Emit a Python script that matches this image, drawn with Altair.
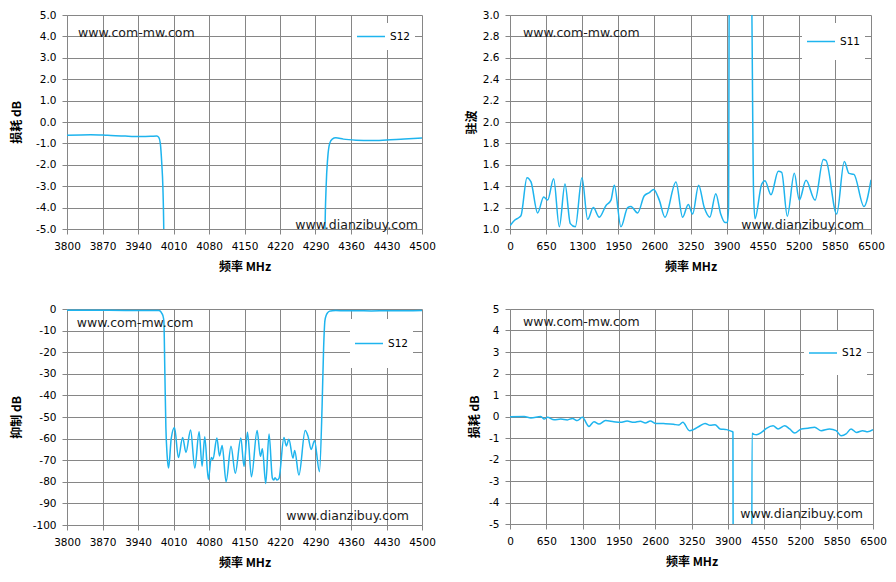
import altair as alt
import pandas as pd

# narrowband S12 (3800-4500 MHz), shared by the loss and rejection panels
nb_freq = [3800, 3847, 3880, 3915, 3944, 3965, 3977, 3981, 3984, 3987, 3989, 3991, 3993, 3995,
           3997.5, 4000.3, 4005.5, 4012, 4019.7, 4028, 4034.6, 4043.7, 4052, 4060.5, 4066.4, 4071.6,
           4078.7, 4084.5, 4087.8, 4095.5, 4100.7, 4106, 4113.7, 4123.4, 4131.8, 4142.8, 4149,
           4155.9, 4163.7, 4174.9, 4181.4, 4185.3, 4191.9, 4198.4, 4205, 4207.6, 4210.2, 4214, 4218,
           4227.8, 4232.4, 4237.6, 4245.5, 4249, 4257.3, 4269.7, 4275, 4281.5, 4288, 4297.8, 4303,
           4306, 4308.5, 4311, 4314, 4318, 4323, 4330, 4345, 4370, 4400, 4430, 4465, 4500]
nb_s12 = [-0.62, -0.59, -0.62, -0.66, -0.68, -0.67, -0.65, -0.72, -1.0, -2.0, -3.0, -5.5, -30, -55,
          -68, -73.6, -60, -54.9, -68.8, -59.5, -66.4, -56, -73.6, -56.8, -72.8, -59.2,
          -78.9, -68.8, -69.6, -59.7, -68, -63.2, -80, -63.5, -76, -59.7, -72.9,
          -57.1, -77.7, -56.3, -68.2, -64.7, -80.8, -57.9, -78.4, -79.2, -78.1, -79.2, -78.4,
          -59.5, -63.4, -60.3, -69, -65.5, -76.9, -56.3, -58.7, -65, -61, -75.3, -45,
          -18, -5.5, -3.0, -1.7, -1.0, -0.8, -0.74, -0.8, -0.85, -0.87, -0.84, -0.79, -0.75]

# wideband S12 (0-6500 MHz)
wb_freq = [0, 255, 374, 552, 612, 671, 790, 909, 1028, 1117, 1206, 1295, 1414, 1503, 1592, 1711,
           1859, 1978, 2097, 2216, 2335, 2424, 2513, 2602, 2751, 2929, 3018, 3095, 3214, 3285,
           3404, 3493, 3582, 3672, 3761, 3880, 3969, 3992, 3997, 4003, 4322, 4329, 4334, 4370,
           4414, 4503, 4592, 4711, 4800, 4919, 5008, 5097, 5216, 5335, 5454, 5573, 5721, 5840,
           5929, 6018, 6107, 6208, 6315, 6404, 6500]
wb_s12 = [-0.01, 0.0, -0.07, 0.0, -0.12, -0.04, -0.15, -0.12, -0.16, -0.09, -0.19, -0.04, -0.46,
          -0.24, -0.35, -0.19, -0.24, -0.27, -0.21, -0.27, -0.22, -0.3, -0.21, -0.32, -0.33, -0.36,
          -0.40, -0.27, -0.66, -0.61, -0.43, -0.32, -0.41, -0.38, -0.58, -0.61, -0.69, -0.72, -8,
          -30, -30, -8, -0.78, -0.83, -0.85, -0.74, -0.55, -0.43, -0.58, -0.43, -0.58, -0.77,
          -0.58, -0.55, -0.5, -0.66, -0.58, -0.66, -0.89, -0.81, -0.58, -0.74, -0.66, -0.71, -0.61]

# S11 VSWR (0-6500 MHz)
s11_freq = [0, 78, 168, 198, 306, 378, 498, 606, 678, 786, 888, 990, 1086, 1176, 1296, 1398, 1500,
            1608, 1729, 1818, 1878, 1998, 2118, 2178, 2298, 2418, 2508, 2586, 2688, 2790, 2988,
            3108, 3210, 3288, 3396, 3498, 3598, 3705, 3794, 3872, 3914, 3935, 3950, 4340, 4385,
            4411, 4532, 4591, 4699, 4831, 4892, 4993, 5119, 5209, 5330, 5492, 5642, 5690, 5882,
            6019, 6103, 6193, 6373, 6500]
s11_vswr = [1.03, 1.08, 1.11, 1.125, 1.48, 1.44, 1.15, 1.30, 1.27, 1.47, 1.02, 1.42, 1.05, 1.02,
            1.48, 1.09, 1.20, 1.11, 1.22, 1.27, 1.41, 1.02, 1.20, 1.21, 1.15, 1.31, 1.34, 1.37,
            1.27, 1.11, 1.44, 1.11, 1.23, 1.14, 1.41, 1.20, 1.11, 1.33, 1.14, 1.06, 1.06, 1.2,
            3.6, 3.6, 1.35, 1.096, 1.42, 1.45, 1.32, 1.54, 1.53, 1.12, 1.52, 1.27, 1.455, 1.27,
            1.65, 1.64, 1.14, 1.63, 1.52, 1.51, 1.21, 1.46]

LINE = "#1EB4EE"
GRID = "#868686"
LABEL_FONT = "DejaVu Sans"
TITLE_FONT = "Noto Sans CJK SC"


def ticks(lo, hi, step):
    n = round((hi - lo) / step)
    return [round(lo + i * step, 6) for i in range(n + 1)]


def hyphen(fmt):
    # Excel style labels use a plain hyphen, not the unicode minus
    return f"datum.value < 0 ? '-' + format(-datum.value, '{fmt}') : format(datum.value, '{fmt}')"


def note(text, x, y, align):
    return (
        alt.Chart(pd.DataFrame({"t": [text]}))
        .mark_text(align=align, baseline="middle", font=LABEL_FONT, fontSize=12.5, color="#1a1a1a")
        .encode(text="t:N", x=alt.value(x), y=alt.value(y))
    )


def panel(freq, vals, series, xdom, xstep, ydom, ystep, yfmt, ytitle, width, height,
          ytitle_x, leg, notes):
    df = pd.DataFrame({"f": freq, "v": vals, "series": series})
    lx, ly, pad, clip_h = leg
    line = (
        alt.Chart(df)
        .mark_line(interpolate="monotone", clip=True, strokeWidth=1.5)
        .encode(
            x=alt.X("f:Q", scale=alt.Scale(domain=xdom, nice=False, zero=False),
                    axis=alt.Axis(values=ticks(*xdom, xstep), format="d", title="频率 MHz",
                                  titleY=37, titleBaseline="middle")),
            y=alt.Y("v:Q", scale=alt.Scale(domain=ydom, nice=False, zero=False),
                    axis=alt.Axis(values=ticks(*ydom, ystep), labelExpr=hyphen(yfmt), title=ytitle,
                                  titleX=ytitle_x, titleBaseline="middle")),
            color=alt.Color("series:N", scale=alt.Scale(domain=[series], range=[LINE]),
                            legend=alt.Legend(title=None, orient="none", legendX=lx, legendY=ly,
                                              fillColor="white", padding=pad, clipHeight=clip_h,
                                              symbolType="stroke", symbolSize=784,
                                              symbolStrokeWidth=1.5, labelFont=LABEL_FONT,
                                              labelFontSize=10.5, labelColor="#000")),
        )
    )
    (t1x, t1y), (t2x, t2y) = notes
    return alt.layer(
        line,
        note("www.com-mw.com", t1x, t1y, "left"),
        note("www.dianzibuy.com", t2x, t2y, "right"),
    ).properties(width=width, height=height)


p1 = panel(nb_freq, nb_s12, "S12", [3800, 4500], 70, [-5, 5], 1, ".1f", "损耗 dB", 355, 214,
           -51, (285, 8, 4, 19), ((11, 17.7), (351, 210)))
p2 = panel(s11_freq, s11_vswr, "S11", [0, 6500], 650, [1, 3], 0.2, ".1f", "驻波", 361, 214,
           -39, (292, 8, 4, 29), ((13, 17.7), (354, 210)))
p3 = panel(nb_freq, nb_s12, "S12", [3800, 4500], 70, [-100, 0], 10, "d", "抑制 dB", 355, 216,
           -51, (283, 10, 4, 41), ((9.7, 13.7), (342, 207)))
p4 = panel(wb_freq, wb_s12, "S12", [0, 6500], 650, [-5, 5], 1, "d", "损耗 dB", 363, 215,
           -36, (294, 22, 4, 36), ((13, 12.7), (353, 205)))

chart = (
    alt.concat(p1, p2, p3, p4, columns=2, spacing={"row": 80, "column": 88}, bounds="flush")
    .resolve_scale(color="independent")
    .resolve_legend(color="independent")
    .properties(padding={"left": 2, "top": 2, "right": 0, "bottom": 5})
    .configure_view(stroke=None)
    .configure_axis(domainColor=GRID, gridColor=GRID, tickColor=GRID, tickSize=5,
                    labelFont=LABEL_FONT, labelFontSize=10.5, labelColor="#000",
                    titleFont=TITLE_FONT, titleFontSize=12, titleFontWeight="bold",
                    titleColor="#000", labelFlush=False, labelOverlap=False)
    .configure_axisX(labelPadding=7)
    .configure_axisY(labelPadding=6)
)

chart.save("out.html", embed_options={"renderer": "svg", "actions": False})
